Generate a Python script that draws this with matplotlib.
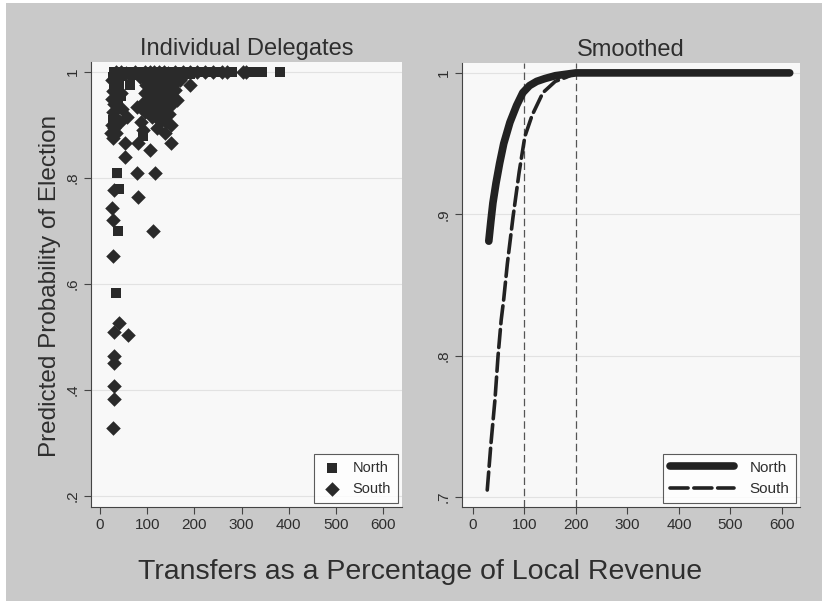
import numpy as np
import matplotlib.pyplot as plt
from matplotlib.patches import Rectangle

plt.rcParams['font.family'] = ['Liberation Sans', 'DejaVu Sans']

# ---- data ----
# left panel: individual delegates (transfers %, predicted prob.)
north_x = [30, 40, 50, 60, 70, 80, 90, 100, 110, 120, 130, 140, 150, 165, 180,
           200, 215, 230, 250, 280, 324, 343, 381,
           28, 30, 32, 30, 34, 64, 28, 36, 38, 34, 91, 40, 100, 120, 140,
           45, 75, 105, 135, 160, 190,
           40, 44, 38]
north_y = [1.0, 1.0, 1.0, 1.0, 1.0, 1.0, 1.0, 1.0, 1.0, 1.0, 1.0, 1.0, 1.0, 1.0, 1.0,
           1.0, 1.0, 1.0, 1.0, 1.0, 1.0, 1.0, 1.0,
           0.99, 0.975, 0.96, 0.945, 0.93, 0.975, 0.91, 0.81, 0.70, 0.583, 0.88, 0.78,
           0.985, 0.97, 0.955,
           0.992, 0.994, 0.993, 0.994, 0.992, 0.996,
           0.975, 0.955, 0.94]

south_x = [35, 45, 55, 75, 95, 105, 115, 125, 135, 145, 160, 175, 190, 205, 222,
           240, 258, 270, 303, 310,
           191, 170, 150, 85,
           26, 28, 26, 30, 28, 32, 26, 30, 24, 27, 40, 44, 46,
           78, 57, 53, 53, 80, 106, 117, 78, 30, 80, 26, 28, 112, 28,
           40, 30, 59, 30, 30, 30, 30, 27,
           95, 105, 115, 125, 135, 145, 155, 160,
           98, 108, 118, 128, 138, 148, 158,
           96, 106, 116, 126, 136, 146, 156, 163,
           100, 110, 120, 130, 140, 150,
           97, 107, 117, 127, 137, 147,
           110, 122, 132, 140, 150, 90, 95, 88, 91, 138, 150, 120,
           62, 82, 118, 178,
           42, 35, 38]
south_y = [1.0, 1.0, 0.998, 1.0, 1.0, 1.0, 1.0, 1.0, 1.0, 0.998, 1.0, 1.0, 1.0, 1.0, 1.0,
           1.0, 1.0, 1.0, 1.0, 1.0,
           0.975, 0.985, 0.99, 0.99,
           0.985, 0.965, 0.95, 0.94, 0.925, 0.915, 0.90, 0.895, 0.885, 0.875, 0.99, 0.96, 0.93,
           0.934, 0.915, 0.866, 0.84, 0.866, 0.853, 0.81, 0.81, 0.777, 0.764, 0.743, 0.72, 0.70, 0.653,
           0.526, 0.509, 0.504, 0.464, 0.451, 0.408, 0.383, 0.328,
           0.99, 0.988, 0.992, 0.99, 0.989, 0.991, 0.985, 0.98,
           0.975, 0.973, 0.977, 0.975, 0.972, 0.97, 0.966,
           0.96, 0.958, 0.962, 0.96, 0.956, 0.955, 0.95, 0.947,
           0.945, 0.943, 0.946, 0.942, 0.94, 0.938,
           0.93, 0.928, 0.931, 0.927, 0.925, 0.92,
           0.915, 0.912, 0.91, 0.905, 0.9, 0.94, 0.925, 0.905, 0.89, 0.885, 0.866, 0.895,
           0.996, 0.995, 0.996, 0.995,
           0.905, 0.885, 0.96]

# right panel: smoothed curves
north_cx = [31, 35, 39, 45, 52, 60, 72, 85, 97, 110, 124, 140, 160, 180, 200, 615]
north_cy = [0.881, 0.895, 0.908, 0.922, 0.936, 0.950, 0.965, 0.977, 0.986, 0.991,
            0.994, 0.996, 0.998, 0.999, 1.0, 1.0]
south_cx = [28, 35, 43, 49, 55, 60, 67, 78, 90, 101, 115, 136, 160, 182, 200, 615]
south_cy = [0.705, 0.737, 0.769, 0.800, 0.825, 0.840, 0.865, 0.898, 0.930, 0.955,
            0.970, 0.986, 0.994, 0.997, 1.0, 1.0]
ref_lines = [100, 200]

xticks = [0, 100, 200, 300, 400, 500, 600]
left_yticks = [0.2, 0.4, 0.6, 0.8, 1.0]
left_ylabels = ['.2', '.4', '.6', '.8', '1']
right_yticks = [0.7, 0.8, 0.9, 1.0]
right_ylabels = ['.7', '.8', '.9', '1']

bg = '#c9c9c9'
plotbg = '#f8f8f8'
ink = '#2e2e2e'

fig = plt.figure(figsize=(8.22, 6.01), dpi=100)
fig.patch.set_facecolor('white')
fig.patches.append(Rectangle((6 / 822, 0), 1, 1 - 3 / 601, transform=fig.transFigure,
                             facecolor=bg, edgecolor='none', zorder=-10))


def style_axis(ax, yticks, ylabels):
    ax.set_facecolor(plotbg)
    for s in ['top', 'right']:
        ax.spines[s].set_visible(False)
    for s in ['left', 'bottom']:
        ax.spines[s].set_color('#444444')
        ax.spines[s].set_linewidth(0.8)
    ax.set_xticks(xticks)
    ax.set_xticklabels([str(t) for t in xticks], fontsize=11, color=ink)
    ax.set_yticks(yticks)
    ax.set_yticklabels(ylabels, fontsize=11, color=ink, rotation=90, va='center')
    ax.tick_params(direction='out', length=5, width=0.8, color='#444444', pad=3)
    ax.grid(axis='y', color='#e2e2e2', linewidth=0.8)
    ax.set_axisbelow(True)


def style_legend(leg):
    leg.get_frame().set_edgecolor('#333333')
    leg.get_frame().set_facecolor('white')
    leg.get_frame().set_linewidth(0.8)
    for t in leg.get_texts():
        t.set_color(ink)


ax1 = fig.add_axes([91 / 822, 1 - 507 / 601, 311 / 822, 445 / 601])
style_axis(ax1, left_yticks, left_ylabels)
ax1.scatter(north_x, north_y, marker='s', s=55, color='#2a2a2a', linewidths=0, label='North')
ax1.scatter(south_x, south_y, marker='D', s=55, color='#2a2a2a', linewidths=0, label='South')
ax1.set_xlim(-19, 640)
ax1.set_ylim(0.179, 1.019)
ax1.set_title('Individual Delegates', fontsize=17, color=ink, pad=5)
leg1 = ax1.legend(loc='lower right', fontsize=10.5, frameon=True, fancybox=False,
                  borderpad=0.45, handletextpad=0.6, labelspacing=0.5,
                  borderaxespad=0.3, markerscale=1.0, handlelength=1.6)
style_legend(leg1)

ax2 = fig.add_axes([462 / 822, 1 - 507 / 601, 338 / 822, 444 / 601])
style_axis(ax2, right_yticks, right_ylabels)
for r in ref_lines:
    ax2.axvline(r, color='#555555', linewidth=0.9, dashes=(6, 3))
ax2.plot(north_cx, north_cy, color='#222222', linewidth=5.5, solid_capstyle='round',
         label='North')
ax2.plot(south_cx, south_cy, color='#222222', linewidth=2.6, dashes=(5, 1.6),
         dash_capstyle='round', label='South')
ax2.set_xlim(-21, 635)
ax2.set_ylim(0.693, 1.007)
ax2.set_title('Smoothed', fontsize=17, color=ink, pad=5)
leg2 = ax2.legend(loc='lower right', fontsize=11, frameon=True, fancybox=False,
                  borderpad=0.45, handlelength=4.2, handletextpad=1.0, labelspacing=0.5,
                  borderaxespad=0.25)
style_legend(leg2)

fig.text(50 / 822, 1 - 286 / 601, 'Predicted Probability of Election', rotation=90,
         ha='center', va='center', fontsize=17.5, color=ink)
fig.text(420 / 822, 1 - 572 / 601, 'Transfers as a Percentage of Local Revenue',
         ha='center', va='center', fontsize=20.5, color=ink)

fig.savefig('out.png', dpi=100, facecolor=fig.get_facecolor())
